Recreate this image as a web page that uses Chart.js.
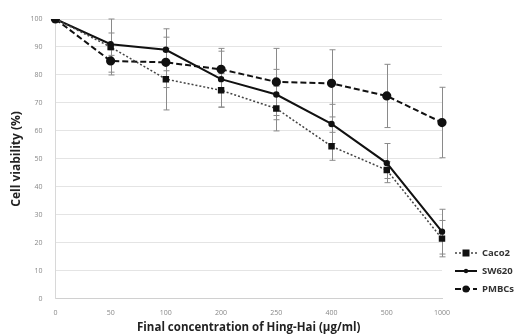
<!DOCTYPE html>
<html lang="en">
<head>
    <meta charset="UTF-8">
    <title>Cell viability</title>
    <script src="https://cdn.jsdelivr.net/npm/chart.js"></script>
    <style>
        html, body { margin: 0; padding: 0; background: #fff; }
        #wrap { width: 516px; height: 336px; }
    </style>
</head>
<body>
    <div id="wrap"><canvas id="viabilityChart" width="516" height="336"></canvas></div>

    <script>
        // concentrations (µg/ml) shown as categories on the x axis
        const concentrations = ['0', '50', '100', '200', '250', '400', '500', '1000'];

        const caco2 = [100, 90, 78.5, 74.5, 68, 54.5, 46, 21.5];
        const sw620 = [100, 91, 89, 78.5, 73, 62.5, 48.5, 24];
        const pmbcs = [100, 85, 84.5, 82, 77.5, 77, 72.5, 63];

        // error bar half-heights
        const caco2Err = [0, 10, 11, 6, 8, 5, 3, 6.5];
        const sw620Err = [0, 4, 7.5, 10, 9, 7, 7, 8];
        const pmbcsErr = [0, 4, 9, 7.5, 12, 12, 11.3, 12.6];

        const yTicks = [0, 10, 20, 30, 40, 50, 60, 70, 80, 90, 100];

        const errorBars = {
            id: 'errorBars',
            beforeDatasetsDraw(chart) {
                const ctx = chart.ctx;
                const y = chart.scales.y;
                ctx.save();
                ctx.strokeStyle = '#8a8a8a';
                ctx.lineWidth = 1;
                chart.data.datasets.forEach((ds, di) => {
                    const meta = chart.getDatasetMeta(di);
                    ds.errors.forEach((e, i) => {
                        if (!e) return;
                        const x = Math.round(meta.data[i].x) + 0.5;
                        const top = y.getPixelForValue(ds.data[i] + e);
                        const bot = y.getPixelForValue(ds.data[i] - e);
                        ctx.beginPath();
                        ctx.moveTo(x, top); ctx.lineTo(x, bot);
                        ctx.moveTo(x - 3, top); ctx.lineTo(x + 3, top);
                        ctx.moveTo(x - 3, bot); ctx.lineTo(x + 3, bot);
                        ctx.stroke();
                    });
                });
                ctx.restore();
            }
        };

        // legend at the lower right: line sample with the marker in the middle
        const sideLegend = {
            id: 'sideLegend',
            afterDraw(chart) {
                const ctx = chart.ctx;
                ctx.save();
                chart.data.datasets.forEach((ds, i) => {
                    const y = 253 + i * 18;
                    ctx.strokeStyle = ds.borderColor;
                    ctx.lineWidth = ds.borderWidth;
                    ctx.setLineDash(ds.borderDash || []);
                    ctx.beginPath();
                    ctx.moveTo(455, y); ctx.lineTo(477, y);
                    ctx.stroke();
                    ctx.setLineDash([]);
                    ctx.fillStyle = ds.pointBackgroundColor;
                    const r = ds.pointRadius;
                    if (ds.pointStyle === 'rect') ctx.fillRect(466 - r, y - r, r * 2, r * 2);
                    else { ctx.beginPath(); ctx.arc(466, y, r, 0, Math.PI * 2); ctx.fill(); }
                    ctx.fillStyle = '#333';
                    ctx.font = 'bold 9.5px "Open Sans"';
                    ctx.textBaseline = 'middle';
                    ctx.fillText(ds.label, 482, y);
                });
                ctx.restore();
            }
        };

        const ctx = document.getElementById('viabilityChart').getContext('2d');
        new Chart(ctx, {
            type: 'line',
            data: {
                labels: concentrations,
                datasets: [
                    {
                        label: 'Caco2',
                        data: caco2,
                        errors: caco2Err,
                        borderColor: '#444',
                        borderWidth: 1.5,
                        borderDash: [2, 2],
                        pointStyle: 'rect',
                        pointRadius: 3.5,
                        pointBackgroundColor: '#111',
                        pointBorderColor: '#111'
                    },
                    {
                        label: 'SW620',
                        data: sw620,
                        errors: sw620Err,
                        borderColor: '#111',
                        borderWidth: 2,
                        pointStyle: 'circle',
                        pointRadius: 2.2,
                        pointBackgroundColor: '#111',
                        pointBorderColor: '#111'
                    },
                    {
                        label: 'PMBCs',
                        data: pmbcs,
                        errors: pmbcsErr,
                        borderColor: '#111',
                        borderWidth: 2,
                        borderDash: [6, 3],
                        pointStyle: 'circle',
                        pointRadius: 3.6,
                        pointBackgroundColor: '#111',
                        pointBorderColor: '#111'
                    }
                ]
            },
            options: {
                responsive: false,
                animation: false,
                layout: { padding: { top: 19, right: 74, left: 4, bottom: 1 } },
                plugins: {
                    legend: { display: false },
                    tooltip: { enabled: false }
                },
                scales: {
                    x: {
                        offset: false,
                        grid: { display: false, drawTicks: false },
                        border: { color: '#d0d0d0' },
                        ticks: { color: '#888', font: { family: 'Open Sans', size: 7 }, padding: 10, maxRotation: 0, autoSkip: false },
                        title: {
                            display: true,
                            text: 'Final concentration of Hing-Hai (µg/ml)',
                            color: '#222',
                            font: { family: 'Open Sans', size: 11.5, weight: 'bold' },
                            padding: { top: -6, bottom: 0 }
                        }
                    },
                    y: {
                        min: 0,
                        max: 100,
                        afterBuildTicks(axis) { axis.ticks = yTicks.map(v => ({ value: v })); },
                        grid: { color: '#e4e4e4', drawTicks: false },
                        border: { color: '#d8d8d8' },
                        ticks: { color: '#888', font: { family: 'Open Sans', size: 7 }, padding: 13 },
                        title: {
                            display: true,
                            text: 'Cell viability (%)',
                            color: '#222',
                            font: { family: 'Open Sans', size: 12, weight: 'bold' },
                            padding: { top: 5, bottom: -6 }
                        }
                    }
                }
            },
            plugins: [errorBars, sideLegend]
        });
    </script>
</body>
</html>
